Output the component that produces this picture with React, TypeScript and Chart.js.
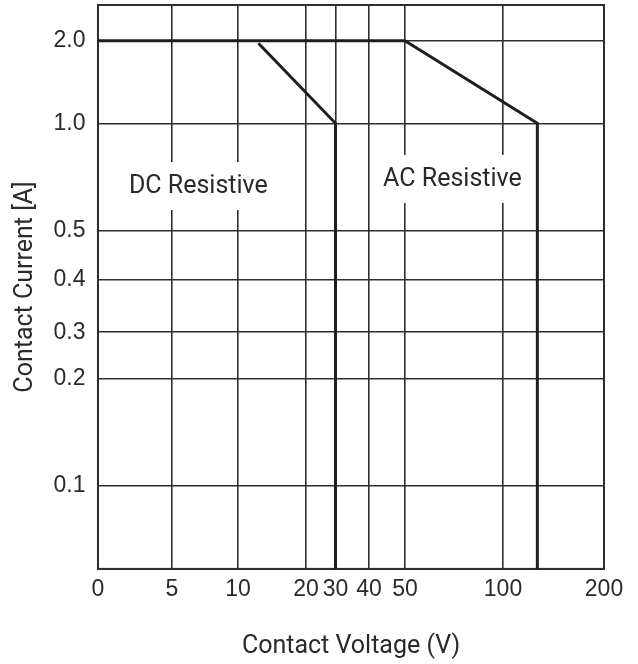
import React, { useEffect, useRef } from "react";
import { Chart, LinearScale, registerables } from "chart.js";

// ---------- data ----------
const xTickValues = [0, 5, 10, 20, 30, 40, 50, 100, 200];
const xTickLabels = ["0", "5", "10", "20", "30", "40", "50", "100", "200"];
const yTickValues = [0.1, 0.2, 0.3, 0.4, 0.5, 1.0, 2.0];
const yTickLabels = ["0.1", "0.2", "0.3", "0.4", "0.5", "1.0", "2.0"];

const dcVoltage = [13, 30, 30];
const dcCurrent = [1.97, 1.0, 0];
const acVoltage = [0, 50, 134, 134];
const acCurrent = [2.0, 2.0, 1.0, 0];

const curveNames = ["DC Resistive", "AC Resistive"];
const curveLabelVoltage = [7.0, 74.2];
const curveLabelCurrent = [0.708, 0.741];

// ---------- axis definition (non-uniform graph-paper scales) ----------
const xAxisStopValues = [0, 5, 10, 20, 30, 40, 50, 100, 200];
const xAxisStopFractions = [0, 0.1462, 0.2767, 0.4111, 0.4694, 0.5356, 0.6067, 0.8004, 1];
const yAxisStopValues = [0, 0.1, 0.2, 0.3, 0.4, 0.5, 1.0, 2.0, 2.4];
const yAxisStopFractions = [0, 0.1472, 0.3369, 0.4197, 0.5124, 0.5998, 0.7902, 0.9367, 1];

const AXES: Record<string, { values: number[]; fractions: number[]; ticks: number[] }> = {
  x: { values: xAxisStopValues, fractions: xAxisStopFractions, ticks: xTickValues },
  y: { values: yAxisStopValues, fractions: yAxisStopFractions, ticks: yTickValues },
};

function interp(from: number[], to: number[], v: number): number {
  const n = from.length;
  let i = 0;
  if (v <= from[0]) i = 0;
  else if (v >= from[n - 1]) i = n - 2;
  else {
    while (i < n - 2 && v > from[i + 1]) i++;
  }
  const t = (v - from[i]) / (from[i + 1] - from[i]);
  return to[i] + t * (to[i + 1] - to[i]);
}

class PiecewiseScale extends LinearScale {
  static id = "piecewise";
  static defaults = LinearScale.defaults;

  determineDataLimits() {
    const a = AXES[(this as any).id];
    (this as any).min = a.values[0];
    (this as any).max = a.values[a.values.length - 1];
  }
  buildTicks() {
    const a = AXES[(this as any).id];
    return a.ticks.map((v) => ({ value: v }));
  }
  getPixelForValue(value: number) {
    if (value === null || value === undefined || isNaN(value)) return NaN;
    const a = AXES[(this as any).id];
    return (this as any).getPixelForDecimal(interp(a.values, a.fractions, value));
  }
  getValueForPixel(pixel: number) {
    const a = AXES[(this as any).id];
    return interp(a.fractions, a.values, (this as any).getDecimalForPixel(pixel));
  }
  getPixelForTick(index: number) {
    const ticks = (this as any).ticks;
    if (index < 0 || index > ticks.length - 1) return null;
    return this.getPixelForValue(ticks[index].value);
  }
}

Chart.register(...registerables, PiecewiseScale as any);

const INK = "#1e1e1e";
const GRID = "#2e2e2e";
const TEXT = "#2a2a2a";
const LABEL_FONT = "Roboto";
const TICK_FONT = "'Liberation Sans', Arial, sans-serif";

const curveLabelsPlugin = {
  id: "curveLabels",
  beforeDatasetsDraw(chart: any) {
    const { ctx, chartArea, scales } = chart;
    ctx.save();
    ctx.font = `25px ${LABEL_FONT}`;
    ctx.textAlign = "center";
    ctx.textBaseline = "middle";
    curveNames.forEach((name, i) => {
      const cx = scales.x.getPixelForValue(curveLabelVoltage[i]);
      const cy = scales.y.getPixelForValue(curveLabelCurrent[i]);
      const w = ctx.measureText(name).width + 22;
      const h = 48;
      ctx.fillStyle = "#ffffff";
      ctx.fillRect(cx - w / 2, cy - h / 2, w, h);
      ctx.fillStyle = TEXT;
      ctx.fillText(name, cx, cy + 1);
    });
    // plot frame
    ctx.strokeStyle = GRID;
    ctx.lineWidth = 2;
    ctx.strokeRect(
      chartArea.left,
      chartArea.top,
      chartArea.right - chartArea.left,
      chartArea.bottom - chartArea.top
    );
    ctx.restore();
  },
};

function App() {
  const canvasRef = useRef<HTMLCanvasElement | null>(null);

  useEffect(() => {
    document.body.style.margin = "0";
    const canvas = canvasRef.current;
    if (!canvas) return;
    const chart = new Chart(canvas, {
      type: "line",
      data: {
        datasets: [
          {
            label: curveNames[0],
            data: dcVoltage.map((v, i) => ({ x: v, y: dcCurrent[i] })),
            borderColor: INK,
            borderWidth: 3,
            pointRadius: 0,
            tension: 0,
            fill: false,
          },
          {
            label: curveNames[1],
            data: acVoltage.map((v, i) => ({ x: v, y: acCurrent[i] })),
            borderColor: INK,
            borderWidth: 3,
            pointRadius: 0,
            tension: 0,
            fill: false,
          },
        ],
      },
      options: {
        animation: false,
        responsive: true,
        maintainAspectRatio: false,
        layout: { padding: { top: 5, right: 34, bottom: 0, left: 0 } },
        plugins: {
          legend: { display: false },
          tooltip: { enabled: false },
        },
        scales: {
          x: {
            type: "piecewise" as any,
            position: "bottom",
            grid: { color: GRID, lineWidth: 1.6, drawTicks: false },
            border: { color: GRID, width: 2 },
            ticks: {
              autoSkip: false,
              maxRotation: 0,
              padding: 7,
              color: TEXT,
              font: { family: TICK_FONT, size: 23 },
              callback: (_v: any, i: number) => xTickLabels[i],
            },
            title: {
              display: true,
              text: "Contact Voltage (V)",
              color: TEXT,
              font: { family: LABEL_FONT, size: 25 },
              padding: { top: 21, bottom: 2.5 },
            },
          },
          y: {
            type: "piecewise" as any,
            position: "left",
            grid: { color: GRID, lineWidth: 1.6, drawTicks: false },
            border: { color: GRID, width: 2 },
            afterFit: (s: any) => {
              s.paddingTop = 0;
              s.paddingBottom = 0;
            },
            ticks: {
              autoSkip: false,
              padding: 12.5,
              color: TEXT,
              font: { family: TICK_FONT, size: 23 },
              callback: (_v: any, i: number) => yTickLabels[i],
            },
            title: {
              display: true,
              text: "Contact Current [A]",
              color: TEXT,
              font: { family: LABEL_FONT, size: 25 },
              padding: { top: 11, bottom: 0 },
            },
          },
        },
      } as any,
      plugins: [curveLabelsPlugin],
    });
    return () => chart.destroy();
  }, []);

  return (
    <div style={{ position: "relative", width: 638, height: 664 }}>
      <canvas ref={canvasRef} />
    </div>
  );
}

export default App;
